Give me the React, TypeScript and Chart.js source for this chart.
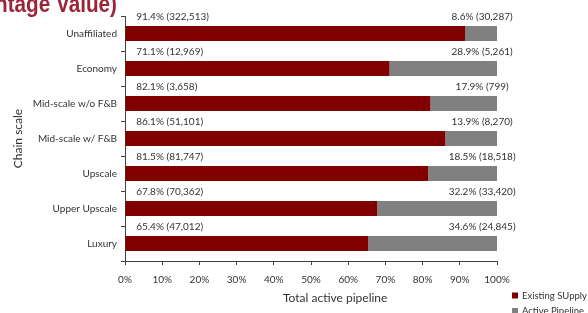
import React, { useEffect, useRef } from "react";
import { Chart, registerables } from "chart.js";

Chart.register(...registerables);

const categories = [
  "Unaffiliated",
  "Economy",
  "Mid-scale w/o F&B",
  "Mid-scale w/ F&B",
  "Upscale",
  "Upper Upscale",
  "Luxury",
];
const existingPct = [91.4, 71.1, 82.1, 86.1, 81.5, 67.8, 65.4];
const existingCount = ["322,513", "12,969", "3,658", "51,101", "81,747", "70,362", "47,012"];
const pipelinePct = [8.6, 28.9, 17.9, 13.9, 18.5, 32.2, 34.6];
const pipelineCount = ["30,287", "5,261", "799", "8,270", "18,518", "33,420", "24,845"];
const seriesNames = ["Existing SUpply", "Active Pipeline"];
const titleText = "(Percentage Value)";
const xAxisTitle = "Total active pipeline";
const yAxisTitle = "Chain scale";

const RED = "#800000";
const GRAY = "#808080";
const TEXT = "#333333";
const FONT = "Lato, 'Open Sans', sans-serif";

const overlayPlugin = {
  id: "overlay",
  afterDraw(chart: any) {
    const ctx = chart.ctx;
    const xs = chart.scales.x;
    const ys = chart.scales.y;
    ctx.save();
    // data labels
    ctx.font = `10px ${FONT}`;
    ctx.fillStyle = TEXT;
    ctx.textBaseline = "middle";
    categories.forEach((_, i) => {
      const y = ys.getPixelForValue(i) - 16.5;
      ctx.textAlign = "left";
      ctx.fillText(`${existingPct[i].toFixed(1)}% (${existingCount[i]})`, xs.getPixelForValue(3), y);
      ctx.textAlign = "center";
      ctx.fillText(`${pipelinePct[i].toFixed(1)}% (${pipelineCount[i]})`, xs.getPixelForValue(96), y);
    });
    // x axis title
    ctx.font = `12px ${FONT}`;
    ctx.textAlign = "center";
    ctx.fillText(xAxisTitle, xs.getPixelForValue(56.5), 298);
    // legend
    const colors = [RED, GRAY];
    ctx.font = `9.5px ${FONT}`;
    ctx.textAlign = "left";
    seriesNames.forEach((name, k) => {
      const cy = 295.5 + k * 15.5;
      ctx.fillStyle = colors[k];
      ctx.fillRect(512, cy - 3, 6, 6);
      ctx.fillStyle = TEXT;
      ctx.fillText(name, 522, cy);
    });
    // clipped page title
    ctx.save();
    const sx = 0.9;
    ctx.scale(sx, 1);
    ctx.font = `bold 23px 'Liberation Sans', 'DejaVu Sans', sans-serif`;
    ctx.fillStyle = "#9b2538";
    ctx.textAlign = "right";
    ctx.textBaseline = "alphabetic";
    ctx.fillText(titleText, 117 / sx, 11.5);
    ctx.restore();
    ctx.restore();
  },
};

export default function App() {
  const ref = useRef<HTMLCanvasElement | null>(null);
  useEffect(() => {
    if (!ref.current) return;
    const chart = new Chart(ref.current, {
      type: "bar",
      data: {
        labels: categories,
        datasets: [
          {
            label: seriesNames[0],
            data: existingPct,
            backgroundColor: RED,
            barPercentage: 0.43,
            categoryPercentage: 1,
          },
          {
            label: seriesNames[1],
            data: pipelinePct,
            backgroundColor: GRAY,
            barPercentage: 0.43,
            categoryPercentage: 1,
          },
        ],
      },
      options: {
        indexAxis: "y",
        animation: false,
        responsive: true,
        maintainAspectRatio: false,
        layout: { padding: { left: 0, right: 91, top: 16, bottom: 0 } },
        plugins: {
          legend: { display: false },
          tooltip: { enabled: false },
        },
        scales: {
          x: {
            stacked: true,
            min: 0,
            max: 100,
            ticks: {
              stepSize: 10,
              callback: (v: any) => `${v}%`,
              color: TEXT,
              font: { size: 10, family: FONT },
              padding: 9,
              maxRotation: 0,
            },
            grid: {
              drawOnChartArea: false,
              drawTicks: true,
              tickLength: 4,
              color: "#404040",
            },
            border: { display: true, color: "#404040" },
            afterFit: (s: any) => {
              s.height = 52;
            },
          },
          y: {
            stacked: true,
            ticks: {
              color: TEXT,
              font: { size: 10, family: FONT },
              padding: 4,
            },
            grid: {
              drawOnChartArea: false,
              drawTicks: true,
              tickLength: 4,
              offset: true,
              color: "#404040",
            },
            border: { display: true, color: "#404040" },
            title: {
              display: true,
              text: yAxisTitle,
              color: TEXT,
              font: { size: 12, family: FONT },
              padding: { top: 11, bottom: 0 },
            },
            afterFit: (s: any) => {
              s.width = 125;
            },
          },
        },
      },
      plugins: [overlayPlugin],
    });
    return () => chart.destroy();
  }, []);
  return (
    <div style={{ position: "fixed", left: 0, top: 0, width: 588, height: 313, background: "#fff" }}>
      <canvas ref={ref} />
    </div>
  );
}
